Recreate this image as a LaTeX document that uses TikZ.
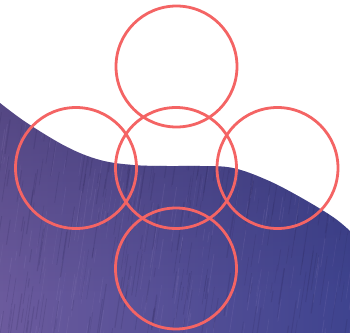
\documentclass[tikz,border=0pt]{standalone}
\usetikzlibrary{calc,fadings}
\definecolor{ringred}{HTML}{F46464}
\definecolor{violetA}{HTML}{6E5C9E}
\definecolor{blueB}{HTML}{3C428E}
\definecolor{streakdark}{HTML}{262050}
\definecolor{streaklight}{HTML}{A898D0}
\tikzset{
  ring/.style={circle, draw=ringred, line width=2.8bp, minimum size=121bp, inner sep=0pt, outer sep=0pt},
}
\begin{document}
\begin{tikzpicture}[x=1bp,y=-1bp]
\useasboundingbox (0,0) rectangle (350,333);
\fill[white] (0,0) rectangle (350,333);
% textured purple ground
\def\groundpath{(0,103) plot[smooth, tension=0.6] coordinates {(0,103) (27,123) (67,147) (100,160) (133,165) (167,166) (200,166) (233,168) (267,180) (300,197) (333,217) (350,231)} -- (350,333) -- (0,333) -- cycle}
\begin{scope}
  \clip \groundpath;
  \shade[shading=axis, shading angle=-55, left color=violetA, right color=blueB] (-20,90) rectangle (370,340);
  \fill[streakdark, opacity=0.35, path fading=south] (-20,95) rectangle (370,300);
  \pgfmathsetseed{7}
  \foreach \i in {1,...,300}{
    \pgfmathsetmacro{\xa}{rnd*380-20}
    \pgfmathsetmacro{\ya}{95+rnd*245}
    \pgfmathsetmacro{\len}{8+rnd*45}
    \draw[streakdark, opacity=0.16, line width=0.3+rnd*1.0] (\xa,\ya) -- ++(-0.15*\len,\len);
  }
  \foreach \i in {1,...,220}{
    \pgfmathsetmacro{\xa}{rnd*380-20}
    \pgfmathsetmacro{\ya}{95+rnd*245}
    \pgfmathsetmacro{\len}{6+rnd*35}
    \draw[streaklight, opacity=0.12, line width=0.3+rnd*0.7] (\xa,\ya) -- ++(-0.15*\len,\len);
  }
\end{scope}
% circles
\node[ring] (top) at (176.5,66.5) {};
\node[ring] (left) at (76,168) {};
\node[ring] (mid) at (176,168) {};
\node[ring] (right) at (277.5,168) {};
\node[ring] (bottom) at (176,268.5) {};
\end{tikzpicture}
\end{document}
